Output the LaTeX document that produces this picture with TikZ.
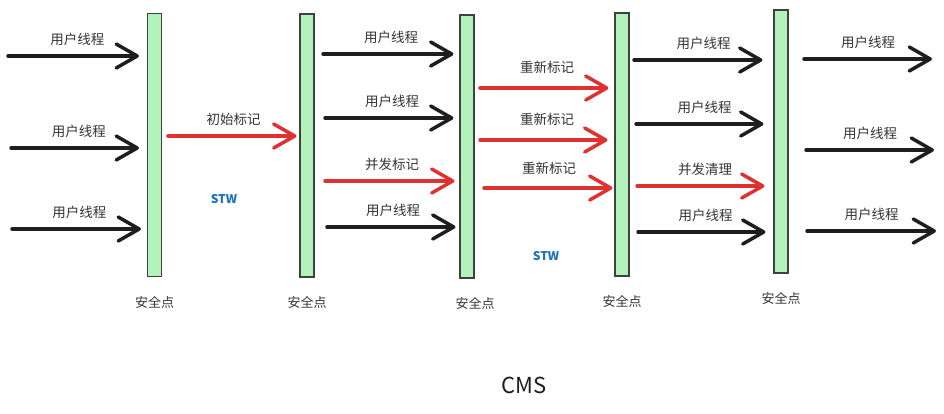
\documentclass[tikz,border=0pt]{standalone}
\usepackage{fontspec}
\setmainfont{Noto Sans CJK SC}
\usetikzlibrary{arrows.meta,positioning}
\definecolor{inkblack}{HTML}{1E1E1E}
\definecolor{markred}{HTML}{E03131}
\definecolor{barfill}{HTML}{B2F2BB}
\definecolor{stwblue}{HTML}{1971C2}

\begin{document}
\begin{tikzpicture}[x=1pt,y=-1pt,
  safepoint/.style={draw=inkblack!85,line width=1.1pt,fill=barfill,minimum width=14pt,minimum height=263pt,inner sep=0pt},
  flow/.style={line width=3.5pt,line cap=round,-{Straight Barb[length=21pt,width=24pt,line cap=round,line join=round]}},
  userflow/.style={flow,draw=inkblack},
  gcflow/.style={flow,draw=markred},
  lbl/.style={midway,above=9pt,inner sep=0pt,text=inkblack!90,font=\fontsize{13.5}{15}\selectfont},
  splbl/.style={below=19pt of #1,inner sep=0pt,text=inkblack!90,font=\fontsize{13}{15}\selectfont},
  stw/.style={text=stwblue,font=\fontsize{12}{14}\selectfont\bfseries}]
  \fill[white] (0,0) rectangle (944,413);
  \useasboundingbox (0,0) rectangle (944,413);

  % safe points
  \node[safepoint] (sp1) at (154.5,145) {};
  \node[safepoint] (sp2) at (307,145.5) {};
  \node[safepoint] (sp3) at (467,146.5) {};
  \node[safepoint] (sp4) at (622,144.5) {};
  \node[safepoint] (sp5) at (781,141.5) {};
  \node[splbl=sp1] (sl1) {安全点};
  \node[splbl=sp2] (sl2) {安全点};
  \node[splbl=sp3,xshift=8pt] (sl3) {安全点};
  \node[splbl=sp4] (sl4) {安全点};
  \node[splbl=sp5] (sl5) {安全点};

  % thread starts
  \coordinate (u01) at (8,56);
  \coordinate (u02) at (11,148);
  \coordinate (u03) at (12,229);
  \coordinate (m11) at (168,136);
  \coordinate (u21) at (323,54);
  \coordinate (u22) at (325,118);
  \coordinate (c23) at (325,181);
  \coordinate (u24) at (327,227);
  \coordinate (r31) at (480,88);
  \coordinate (r32) at (480,140);
  \coordinate (r33) at (484,188);
  \coordinate (u41) at (634,60);
  \coordinate (u42) at (636,124);
  \coordinate (c43) at (637,186);
  \coordinate (u44) at (638,232);
  \coordinate (u51) at (804,59);
  \coordinate (u52) at (806,150);
  \coordinate (u53) at (807,231);
  \coordinate (e51) at (932,59);
  \coordinate (e52) at (934,150);
  \coordinate (e53) at (936,231);

  % before the first safe point
  \draw[userflow,shorten >=8pt] (u01) -- (sp1.west |- u01) node[lbl] {用户线程};
  \draw[userflow,shorten >=8pt] (u02) -- (sp1.west |- u02) node[lbl] {用户线程};
  \draw[userflow,shorten >=6pt] (u03) -- (sp1.west |- u03) node[lbl] {用户线程};

  % initial mark
  \draw[gcflow,shorten >=3pt] (m11) -- (sp2.west |- m11) node[lbl] {初始标记};
  \node[stw] (stw1) at (224,199) {STW};

  % concurrent mark
  \draw[userflow,shorten >=6pt] (u21) -- (sp3.west |- u21) node[lbl] {用户线程};
  \draw[userflow,shorten >=6pt] (u22) -- (sp3.west |- u22) node[lbl] {用户线程};
  \draw[gcflow,shorten >=5pt] (c23) -- (sp3.west |- c23) node[lbl] {并发标记};
  \draw[userflow,shorten >=4pt] (u24) -- (sp3.west |- u24) node[lbl] {用户线程};

  % remark
  \draw[gcflow,shorten >=6pt] (r31) -- (sp4.west |- r31) node[lbl,above=13pt] {重新标记};
  \draw[gcflow,shorten >=7pt] (r32) -- (sp4.west |- r32) node[lbl,above=13pt] {重新标记};
  \draw[gcflow,shorten >=2pt] (r33) -- (sp4.west |- r33) node[lbl,above=12pt] {重新标记};
  \node[stw] (stw2) at (546,256) {STW};

  % concurrent sweep
  \draw[userflow,shorten >=11pt] (u41) -- (sp5.west |- u41) node[lbl] {用户线程};
  \draw[userflow,shorten >=10pt] (u42) -- (sp5.west |- u42) node[lbl] {用户线程};
  \draw[gcflow,shorten >=9pt] (c43) -- (sp5.west |- c43) node[lbl] {并发清理};
  \draw[userflow,shorten >=8pt] (u44) -- (sp5.west |- u44) node[lbl] {用户线程};

  % after the last safe point
  \draw[userflow] (u51) -- (e51) node[lbl] {用户线程};
  \draw[userflow] (u52) -- (e52) node[lbl] {用户线程};
  \draw[userflow] (u53) -- (e53) node[lbl] {用户线程};

  \node[text=inkblack,font=\fontsize{22}{26}\selectfont] (title) at (524,385) {CMS};
\end{tikzpicture}
\end{document}
